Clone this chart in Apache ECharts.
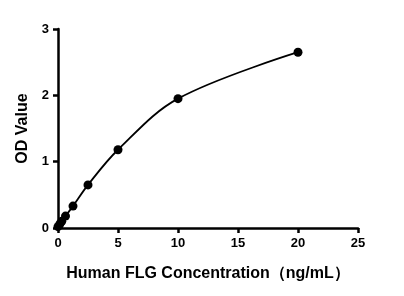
<!DOCTYPE html>
<html><head><meta charset="utf-8">
<script src="https://cdn.jsdelivr.net/npm/echarts@6/dist/echarts.min.js"></script>
<style>html,body{margin:0;padding:0;background:#fff}#c{width:404px;height:296px}</style>
</head><body><div id="c"></div>
<script>
const concentrations = [0, 0.156, 0.3125, 0.625, 1.25, 2.5, 5, 10, 20];
const odValues = [0.02, 0.06, 0.1, 0.18, 0.33, 0.65, 1.18, 1.95, 2.65];
const xTicks = [0, 5, 10, 15, 20, 25];
const yTicks = [0, 1, 2, 3];

const pts = concentrations.map((c, i) => [c, odValues[i]]);
const font = '"Liberation Sans", Arial, sans-serif';
const chart = echarts.init(document.getElementById('c'), null, {renderer: 'canvas'});
chart.setOption({
  animation: false,
  grid: {left: 58, right: 46, top: 29, bottom: 68},
  xAxis: {
    type: 'value', min: 0, max: 25, interval: 5,
    name: 'Human FLG Concentration（ng/mL）', nameLocation: 'middle', nameGap: 38,
    nameTextStyle: {fontFamily: font, fontWeight: 'bold', fontSize: 16, color: '#000'},
    axisLine: {show: true, onZero: false, lineStyle: {color: '#000', width: 2.5}},
    axisTick: {show: true, length: 5, lineStyle: {color: '#000', width: 2.5}},
    axisLabel: {fontFamily: font, fontWeight: 'bold', fontSize: 13, color: '#000', margin: 9},
    splitLine: {show: false}
  },
  yAxis: {
    type: 'value', min: 0, max: 3, interval: 1,
    name: 'OD Value', nameLocation: 'middle', nameGap: 22,
    nameTextStyle: {fontFamily: font, fontWeight: 'bold', fontSize: 16, color: '#000'},
    axisLine: {show: true, onZero: false, lineStyle: {color: '#000', width: 2.5}},
    axisTick: {show: true, length: 5, lineStyle: {color: '#000', width: 2.5}},
    axisLabel: {fontFamily: font, fontWeight: 'bold', fontSize: 13, color: '#000', margin: 9},
    splitLine: {show: false}
  },
  series: [
    {type: 'line', data: pts, smooth: 0.35, showSymbol: false, lineStyle: {color: '#000', width: 1.8}, z: 2},
    {type: 'scatter', data: pts, symbolSize: 9, itemStyle: {color: '#000', opacity: 1}, z: 3}
  ]
});
</script></body></html>
